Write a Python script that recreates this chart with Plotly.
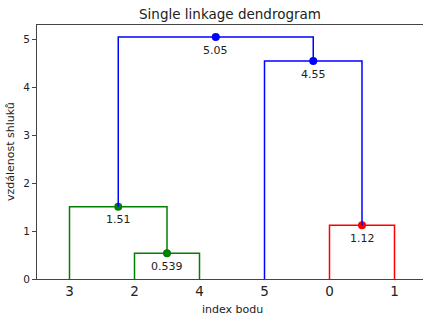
import plotly.graph_objects as go

# ---- data ----
leaf_labels = ["3", "2", "4", "5", "0", "1"]
merge_a = ["2", "3", "0", "5", "m1"]
merge_b = ["4", "m0", "1", "m2", "m3"]
merge_heights = [0.539, 1.51, 1.12, 4.55, 5.05]
merge_colors = ["#008000", "#008000", "#ff0000", "#0000ff", "#0000ff"]
y_ticks = [0, 1, 2, 3, 4, 5]

# ---- build dendrogram geometry from data ----
pos = {lab: 5 + 10 * i for i, lab in enumerate(leaf_labels)}
hgt = {lab: 0.0 for lab in leaf_labels}

fig = go.Figure()
annotations = []
for k, (a, b, h, c) in enumerate(zip(merge_a, merge_b, merge_heights, merge_colors)):
    xa, xb = pos[a], pos[b]
    xs = [xa, xa, xb, xb]
    ys = [hgt[a], h, h, hgt[b]]
    fig.add_trace(go.Scatter(x=xs, y=ys, mode="lines",
                             line=dict(color=c, width=1.5), hoverinfo="skip",
                             showlegend=False))
    xm = (xa + xb) / 2
    fig.add_trace(go.Scatter(x=[xm], y=[h], mode="markers",
                             marker=dict(color=c, size=8), showlegend=False))
    annotations.append(dict(x=xm, y=h, text=f"{h:.3g}", showarrow=False,
                            yshift=-13, font=dict(size=11, color="#222")))
    name = f"m{k}"
    pos[name] = xm
    hgt[name] = h

W, H = 423, 315
L, T, B = 37, 25, 36
xscale = 6.5  # px per unit
xmax = (W - L) / xscale
plot_h = H - T - B

# axis titles as paper annotations (positioned in pixels)
annotations.append(dict(text="index bodu", xref="paper", yref="paper",
                        x=(232 - L) / (W - L), y=-(309 - (H - B)) / plot_h,
                        xanchor="center", yanchor="middle", showarrow=False,
                        font=dict(size=11, color="#222")))
annotations.append(dict(text="vzdálenost shluků", xref="paper", yref="paper",
                        x=-(L - 10) / (W - L), y=0.5, textangle=-90,
                        xanchor="center", yanchor="middle", showarrow=False,
                        font=dict(size=11, color="#222")))

fig.update_layout(
    width=W, height=H,
    margin=dict(l=L, r=0, t=T, b=B, pad=0, autoexpand=False),
    paper_bgcolor="white", plot_bgcolor="white",
    font=dict(family="DejaVu Sans", color="#222"),
    title=dict(text="Single linkage dendrogram", x=0.5, xref="paper",
               xanchor="center", y=1 - 14 / H, yanchor="middle",
               font=dict(size=13.5, color="#222")),
    annotations=annotations,
    showlegend=False,
)
fig.update_xaxes(
    range=[0, xmax], tickvals=[pos[l] for l in leaf_labels], ticktext=leaf_labels,
    ticks="", showgrid=False, zeroline=False, showline=True, mirror=True,
    linecolor="#444", linewidth=1, tickfont=dict(size=13.5, color="#222"),
    automargin=False,
)
fig.update_yaxes(
    range=[0, 5.05 * 1.05], tickvals=y_ticks, ticks="outside", ticklen=4,
    tickcolor="#444", showgrid=False, zeroline=False, showline=True, mirror=False,
    linecolor="#444", linewidth=1, tickfont=dict(size=10.5, color="#222"),
    automargin=False,
)

fig.write_html("out.html", config={"displayModeBar": False},
               post_script="document.body.style.margin='0';document.body.style.overflow='hidden';")
